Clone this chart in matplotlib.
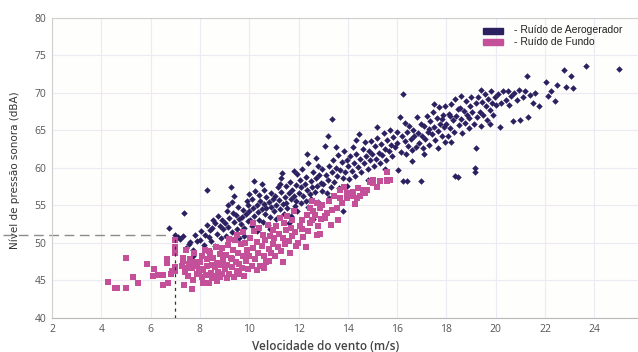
import matplotlib
matplotlib.use("Agg")
import matplotlib.pyplot as plt
from matplotlib.patches import Rectangle

# Ruído de aerogerador (velocidade m/s, nível dBA)
turbine_points = [
    (6.75, 52.0), (7.0, 51.0), (7.1, 50.8), (7.2, 50.5), (7.3, 50.9), (7.37, 54.0), (7.45, 49.3),
    (7.6, 50.1), (7.7, 49.1), (7.7, 48.2), (7.8, 51.0), (7.9, 50.3), (7.55, 49.9),
    (8.0, 50.4), (8.05, 51.6), (8.2, 51.1), (8.27, 57.0), (8.3, 52.4), (8.4, 51.7), (8.45, 50.2),
    (8.5, 52.0), (8.6, 52.6), (8.6, 49.6), (8.7, 51.2), (8.75, 53.6), (8.8, 52.2), (8.85, 50.6),
    (8.9, 53.1), (8.95, 51.8), (8.15, 49.7), (8.35, 50.8), (8.55, 53.1),
    (9.0, 52.6), (9.05, 50.9), (9.1, 54.2), (9.15, 52.1), (9.2, 53.3), (9.26, 57.4), (9.3, 55.5),
    (9.3, 51.5), (9.35, 54.0), (9.4, 52.8), (9.45, 53.7), (9.5, 51.9), (9.55, 54.8), (9.6, 53.2),
    (9.6, 50.6), (9.65, 52.5), (9.7, 53.5), (9.75, 54.4), (9.8, 52.0), (9.85, 53.8), (9.9, 55.6),
    (9.95, 55.1), (9.95, 52.9), (9.4, 56.3), (9.15, 55.0), (9.8, 50.9),
    (10.0, 54.2), (10.05, 53.0), (10.1, 55.8), (10.1, 52.2), (10.15, 54.7), (10.2, 53.6), (10.25, 56.9),
    (10.3, 55.0), (10.3, 51.6), (10.35, 54.1), (10.4, 53.1), (10.45, 55.6), (10.5, 54.5), (10.5, 57.8),
    (10.55, 52.8), (10.6, 55.2), (10.65, 53.9), (10.7, 56.1), (10.7, 54.6), (10.75, 52.4), (10.8, 55.4),
    (10.85, 53.4), (10.9, 56.6), (10.9, 54.8), (10.95, 55.9), (10.2, 58.3), (10.6, 57.1), (10.4, 56.4),
    (10.85, 51.9), (10.0, 56.5),
    (11.0, 54.2), (11.05, 56.3), (11.1, 55.0), (11.1, 53.2), (11.15, 57.4), (11.2, 55.7), (11.25, 54.5),
    (11.3, 56.8), (11.3, 58.6), (11.35, 55.2), (11.4, 53.9), (11.45, 56.1), (11.5, 57.6), (11.5, 55.3),
    (11.55, 54.6), (11.6, 56.6), (11.65, 58.1), (11.7, 55.8), (11.7, 53.6), (11.75, 57.0), (11.8, 56.2),
    (11.85, 54.9), (11.9, 57.7), (11.9, 55.6), (11.95, 59.2), (11.32, 59.3), (11.6, 52.6), (11.8, 59.6),
    (11.25, 57.9), (11.95, 54.2),
    (12.0, 56.7), (12.05, 58.4), (12.1, 55.3), (12.1, 57.5), (12.15, 59.8), (12.2, 56.2), (12.25, 57.9),
    (12.3, 55.6), (12.3, 58.8), (12.35, 57.0), (12.4, 60.7), (12.45, 56.5), (12.5, 58.2), (12.5, 55.9),
    (12.55, 57.4), (12.6, 59.4), (12.65, 56.8), (12.7, 58.6), (12.7, 61.3), (12.75, 57.6), (12.8, 55.4),
    (12.85, 59.0), (12.9, 58.0), (12.95, 56.9), (12.33, 61.9), (12.8, 60.3), (12.4, 54.8), (12.6, 53.2),
    (12.95, 59.9),
    (13.0, 57.8), (13.07, 62.9), (13.1, 59.1), (13.15, 56.6), (13.2, 64.3), (13.2, 58.4), (13.25, 60.2),
    (13.3, 57.5), (13.35, 66.5), (13.35, 59.4), (13.4, 61.0), (13.45, 58.1), (13.5, 60.0), (13.55, 58.9),
    (13.6, 61.7), (13.65, 57.3), (13.7, 59.7), (13.75, 60.8), (13.8, 54.2), (13.8, 58.6), (13.85, 62.2),
    (13.9, 59.4), (13.95, 61.0), (13.5, 62.8), (13.25, 56.0), (13.95, 57.6),
    (14.0, 60.2), (14.05, 58.5), (14.1, 61.6), (14.15, 59.6), (14.2, 62.8), (14.25, 60.6), (14.3, 58.9),
    (14.35, 61.9), (14.4, 60.1), (14.45, 64.5), (14.5, 61.2), (14.55, 59.4), (14.6, 62.5), (14.65, 60.7),
    (14.7, 63.4), (14.75, 61.6), (14.8, 59.9), (14.85, 62.3), (14.9, 61.0), (14.95, 63.6), (14.35, 63.7),
    (14.8, 58.4),
    (15.0, 61.8), (15.05, 60.3), (15.1, 62.9), (15.15, 61.2), (15.2, 64.0), (15.25, 62.0), (15.3, 60.6),
    (15.35, 63.2), (15.4, 61.7), (15.45, 64.6), (15.5, 62.5), (15.55, 61.1), (15.6, 63.7), (15.65, 62.2),
    (15.7, 65.0), (15.75, 63.0), (15.8, 61.6), (15.85, 64.1), (15.9, 62.8), (15.98, 64.8), (15.5, 59.9),
    (15.2, 65.4),
    (16.0, 63.3), (16.05, 59.7), (16.1, 66.8), (16.15, 62.1), (16.2, 64.3), (16.23, 69.9), (16.25, 58.2),
    (16.3, 63.6), (16.35, 61.8), (16.39, 64.8), (16.4, 58.2), (16.45, 62.9), (16.5, 65.6), (16.55, 63.9),
    (16.6, 62.4), (16.66, 65.1), (16.7, 64.3), (16.75, 62.8), (16.8, 66.8), (16.85, 64.7), (16.9, 63.3),
    (16.95, 58.3), (16.95, 65.9), (16.3, 66.0), (16.6, 60.9),
    (17.0, 64.2), (17.05, 62.6), (17.1, 65.6), (17.15, 63.8), (17.2, 66.9), (17.25, 64.8), (17.3, 63.1),
    (17.35, 66.2), (17.4, 64.5), (17.45, 67.4), (17.5, 65.4), (17.55, 63.7), (17.6, 66.6), (17.65, 64.9),
    (17.7, 68.1), (17.75, 65.9), (17.8, 64.2), (17.85, 67.0), (17.9, 65.5), (17.95, 63.5), (17.1, 61.9),
    (17.5, 68.5), (17.8, 66.5), (17.3, 65.2), (17.65, 62.7), (17.95, 68.3),
    (18.0, 65.8), (18.05, 64.3), (18.1, 67.2), (18.15, 65.3), (18.2, 68.5), (18.25, 66.4), (18.3, 64.8),
    (18.35, 58.9), (18.35, 69.2), (18.4, 66.9), (18.46, 58.8), (18.5, 65.7), (18.55, 68.0), (18.6, 66.5),
    (18.65, 64.6), (18.7, 67.6), (18.75, 66.0), (18.8, 68.9), (18.85, 67.1), (18.9, 65.3), (18.95, 68.3),
    (18.2, 63.4), (18.6, 69.6), (18.45, 67.8), (18.9, 66.7), (18.15, 66.9),
    (19.0, 69.5), (19.05, 67.5), (19.1, 65.9), (19.16, 60.0), (19.16, 59.5), (19.2, 62.6), (19.2, 68.6),
    (19.25, 66.8), (19.3, 69.4), (19.35, 67.4), (19.4, 65.6), (19.45, 68.8), (19.5, 67.0), (19.55, 69.9),
    (19.6, 68.2), (19.65, 66.4), (19.7, 69.2), (19.75, 67.7), (19.8, 70.3), (19.85, 68.6), (19.9, 67.1),
    (19.95, 69.5), (19.4, 70.4), (19.75, 65.9),
    (20.0, 68.4), (20.1, 69.9), (20.17, 65.5), (20.2, 68.7), (20.3, 70.3), (20.4, 69.1), (20.5, 70.2),
    (20.55, 68.4), (20.6, 69.6), (20.7, 66.3), (20.75, 70.0), (20.85, 69.0), (20.95, 70.4), (21.0, 66.4),
    (21.1, 69.4), (21.2, 70.2), (21.28, 72.2), (21.3, 66.8), (21.4, 69.7), (21.5, 68.6), (21.6, 70.0),
    (21.75, 68.3), (22.03, 71.4), (22.1, 69.6), (22.24, 70.2), (22.4, 68.9), (22.47, 71.1),
    (22.78, 73.1), (22.85, 70.8), (23.05, 72.2), (23.15, 70.6), (23.66, 73.6), (25.0, 73.2),
]

# Ruído de fundo
background_points = [
    (4.28, 44.8), (4.56, 44.0), (4.62, 44.0), (5.0, 44.0), (5.0, 48.0), (5.27, 45.5), (5.5, 44.7),
    (5.84, 47.2), (6.14, 46.5), (6.08, 45.6), (6.31, 45.7), (6.52, 45.7), (6.49, 44.4), (6.72, 44.6),
    (6.65, 47.9), (6.65, 47.3), (6.86, 46.3), (6.81, 45.8), (7.0, 48.7), (7.0, 46.8), (7.0, 46.3),
    (7.0, 50.4), (7.0, 49.5),
    (7.26, 46.9), (7.33, 48.0), (7.37, 44.4), (7.46, 46.7), (7.67, 43.8), (7.67, 46.6), (7.87, 46.9),
    (7.87, 45.8), (7.3, 47.6), (7.5, 45.6), (7.6, 47.8), (7.75, 48.6), (7.4, 46.1), (7.55, 47.2),
    (7.8, 47.5), (7.95, 46.3), (7.7, 45.1), (7.45, 49.0),
    (8.0, 47.4), (8.07, 45.4), (8.14, 46.5), (8.14, 44.7), (8.28, 46.9), (8.34, 44.7), (8.38, 44.6),
    (8.48, 47.0), (8.61, 45.6), (8.82, 45.4), (8.2, 49.1), (8.1, 48.2), (8.3, 47.8), (8.4, 48.6),
    (8.45, 46.0), (8.55, 48.0), (8.6, 46.8), (8.65, 49.4), (8.7, 47.3), (8.75, 46.1), (8.8, 48.5),
    (8.85, 47.0), (8.88, 49.3), (8.9, 45.9), (8.95, 47.8), (8.25, 45.7), (8.5, 45.3), (8.7, 44.9),
    (8.05, 46.4), (8.35, 48.9),
    (9.0, 46.5), (9.05, 48.4), (9.1, 47.1), (9.15, 49.7), (9.2, 45.8), (9.25, 48.0), (9.3, 46.8),
    (9.35, 49.1), (9.42, 50.4), (9.45, 47.5), (9.5, 46.2), (9.55, 48.7), (9.6, 47.2), (9.65, 49.8),
    (9.7, 46.7), (9.75, 48.3), (9.83, 50.0), (9.85, 47.6), (9.9, 49.1), (9.95, 46.5), (9.1, 45.3),
    (9.4, 45.5), (9.6, 45.9), (9.8, 45.6), (9.2, 50.5), (9.5, 51.1), (9.75, 51.5), (9.3, 47.9),
    (10.0, 48.2), (10.05, 50.6), (10.1, 46.9), (10.15, 49.3), (10.2, 51.6), (10.25, 47.8), (10.3, 50.1),
    (10.35, 48.6), (10.4, 52.0), (10.45, 46.9), (10.5, 49.6), (10.55, 51.1), (10.6, 48.2), (10.65, 50.4),
    (10.7, 47.5), (10.75, 52.4), (10.8, 49.2), (10.85, 50.9), (10.9, 48.6), (10.95, 51.7), (10.3, 46.4),
    (10.6, 46.6), (10.8, 47.6), (10.15, 52.6), (10.95, 49.9),
    (11.0, 50.6), (11.05, 48.3), (11.1, 52.2), (11.15, 49.5), (11.2, 51.2), (11.25, 53.3), (11.3, 48.9),
    (11.35, 50.7), (11.4, 52.6), (11.45, 49.9), (11.5, 51.7), (11.55, 53.6), (11.6, 50.3), (11.65, 48.6),
    (11.7, 52.0), (11.75, 50.9), (11.8, 54.2), (11.85, 51.4), (11.9, 49.6), (11.99, 50.0), (11.35, 47.5),
    (11.75, 53.0),
    (12.05, 52.2), (12.13, 53.1), (12.2, 50.8), (12.33, 53.7), (12.4, 51.6), (12.47, 52.6), (12.53, 53.1),
    (12.6, 54.2), (12.67, 53.7), (12.74, 55.3), (12.74, 51.1), (12.81, 52.2), (12.87, 54.6), (12.94, 55.1),
    (12.3, 49.5), (12.55, 55.6), (12.9, 53.2), (12.15, 51.9), (12.45, 54.6), (12.87, 51.2),
    (13.07, 53.3), (13.07, 53.6), (13.14, 54.0), (13.25, 55.6), (13.35, 54.4), (13.45, 56.3), (13.55, 54.6),
    (13.68, 57.1), (13.68, 56.0), (13.75, 55.3), (13.85, 57.5), (13.95, 56.6), (13.95, 56.0), (13.3, 52.4),
    (13.6, 53.1),
    (14.16, 56.2), (14.22, 56.8), (14.36, 56.0), (14.43, 57.3), (14.5, 56.2), (14.63, 57.1), (14.77, 57.1),
    (14.9, 58.1), (15.03, 58.0), (15.2, 57.4), (15.3, 58.2), (15.58, 58.4), (15.58, 59.5), (15.6, 58.2),
    (15.7, 58.4), (14.3, 55.2), (14.7, 56.6), (15.03, 58.4),
]

x_ticks = [2, 4, 6, 8, 10, 12, 14, 16, 18, 20, 22, 24]
y_ticks = [40, 45, 50, 55, 60, 65, 70, 75, 80]
ref_speed = 7.0
ref_level = 51.0

navy = "#2c2060"
pink = "#c4509a"

fig = plt.figure(figsize=(6.38, 3.52), dpi=100)
fig.patch.set_facecolor("white")
ax = fig.add_axes([0.0815, 0.0966, 0.9185, 0.8523])
ax.set_facecolor("#fefefc")

tx, ty = zip(*turbine_points)
bx, by = zip(*background_points)
ax.scatter(tx, ty, marker="D", s=11, color=navy, linewidths=0, zorder=3)
ax.scatter(bx, by, marker="s", s=15, color=pink, linewidths=0, zorder=4)

# linhas de referência
ax.plot([0.0, ref_speed - 0.2], [ref_level, ref_level], color="#8c8c8c", lw=1.0,
        dashes=(7, 4), clip_on=False, zorder=2)
ax.plot([ref_speed, ref_speed], [40, ref_level], color="#333333", lw=0.9,
        dashes=(2.5, 3), zorder=5)

ax.set_xlim(2, 25.77)
ax.set_ylim(40, 80)
ax.set_xticks(x_ticks)
ax.set_yticks(y_ticks)
ax.grid(True, color="#eceaf2", lw=0.8, zorder=0)
ax.tick_params(length=0, labelsize=7.5, labelcolor="#555555", pad=4)
for lab in ax.get_xticklabels() + ax.get_yticklabels():
    lab.set_family(["Open Sans", "DejaVu Sans"])

ax.spines["right"].set_visible(False)
ax.spines["top"].set_color("#d0d0d0")
ax.spines["left"].set_color("#cfcfcf")
ax.spines["bottom"].set_color("#b8b8b8")

fig.text(326 / 638, 6 / 352, "Velocidade do vento (m/s)", ha="center", va="center",
         fontsize=8.5, fontweight="semibold", color="#444444", family=["Open Sans", "DejaVu Sans"])
fig.text(15 / 638, 1 - 170 / 352, "Nível de pressão sonora (dBA)", rotation=90,
         ha="center", va="center", fontsize=7.5, color="#333333",
         family=["Liberation Sans Narrow", "DejaVu Sans"])

# legenda
fig.patches.append(Rectangle((483 / 638, 1 - 34 / 352), 20 / 638, 6 / 352,
                             transform=fig.transFigure, color=navy, figure=fig))
fig.patches.append(Rectangle((483 / 638, 1 - 45 / 352), 20 / 638, 6 / 352,
                             transform=fig.transFigure, color=pink, figure=fig))
fig.text(514 / 638, 1 - 30 / 352, "- Ruído de Aerogerador", ha="left", va="center",
         fontsize=7.5, color="#222222", family=["Liberation Sans", "DejaVu Sans"])
fig.text(514 / 638, 1 - 42 / 352, "- Ruído de Fundo", ha="left", va="center",
         fontsize=7.5, color="#222222", family=["Liberation Sans", "DejaVu Sans"])

fig.savefig("out.png", dpi=100)
